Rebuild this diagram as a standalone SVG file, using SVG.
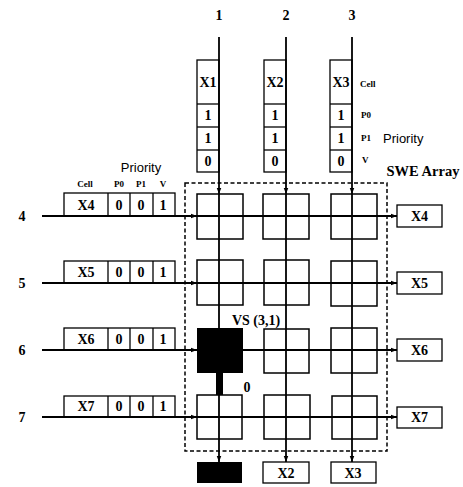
<svg xmlns="http://www.w3.org/2000/svg" width="463" height="487" viewBox="0 0 463 487">
<style>
.b{fill:none;stroke:#000;stroke-width:1.3}
.c{fill:none;stroke:#000;stroke-width:1.5}
.l{stroke:#000;stroke-width:1.8;fill:none}
.d{fill:none;stroke:#000;stroke-width:1.5;stroke-dasharray:4,2.5}
.t{font-family:"Liberation Serif",serif;font-weight:bold;font-size:14px;text-anchor:middle;fill:#000}
.s{font-family:"Liberation Serif",serif;font-weight:bold;font-size:9px;fill:#000}
.p{font-family:"Liberation Sans",sans-serif;font-size:13px;fill:#000}
</style>
<defs>
<marker id="a" viewBox="0 0 8 8" refX="8" refY="4" markerWidth="6" markerHeight="6" orient="auto" markerUnits="userSpaceOnUse"><path d="M0,1 L8,4 L0,7 Z" fill="#000"/></marker>
</defs>
<rect width="463" height="487" fill="#fff"/>

<g id="labels">
<text class="t" x="219" y="20">1</text>
<text class="t" x="286" y="20">2</text>
<text class="t" x="352" y="20">3</text>
<text class="t" x="22" y="221">4</text>
<text class="t" x="22" y="288">5</text>
<text class="t" x="22" y="355">6</text>
<text class="t" x="22" y="422">7</text>
<text class="s" x="360" y="87">Cell</text>
<text class="s" x="361" y="118">P0</text>
<text class="s" x="361" y="141">P1</text>
<text class="s" x="362" y="163">V</text>
<text class="p" x="383" y="143">Priority</text>
<text class="t" x="423" y="176" style="font-size:14.5px">SWE Array</text>
<text class="p" x="141" y="172" text-anchor="middle">Priority</text>
<text class="s" x="85" y="187" text-anchor="middle">Cell</text>
<text class="s" x="119" y="187" text-anchor="middle">P0</text>
<text class="s" x="141" y="187" text-anchor="middle">P1</text>
<text class="s" x="163" y="187" text-anchor="middle">V</text>
<text class="t" x="256" y="325">VS (3,1)</text>
<text class="t" x="247" y="392">0</text>
</g>

<rect id="swe-array" class="d" x="185" y="183" width="202" height="268"/>

<g id="connectors">
<line class="l" x1="219" y1="37" x2="219" y2="194" marker-end="url(#a)"/>
<line class="l" x1="286" y1="37" x2="286" y2="194" marker-end="url(#a)"/>
<line class="l" x1="352" y1="37" x2="352" y2="194" marker-end="url(#a)"/>
<line class="l" x1="219" y1="194" x2="219" y2="462" marker-end="url(#a)"/>
<line class="l" x1="286" y1="194" x2="286" y2="462" marker-end="url(#a)"/>
<line class="l" x1="352" y1="194" x2="352" y2="462" marker-end="url(#a)"/>
<line class="l" x1="42" y1="216" x2="197" y2="216" marker-end="url(#a)"/>
<line class="l" x1="42" y1="283" x2="197" y2="283" marker-end="url(#a)"/>
<line class="l" x1="42" y1="350" x2="197" y2="350" marker-end="url(#a)"/>
<line class="l" x1="42" y1="417" x2="197" y2="417" marker-end="url(#a)"/>
<line class="l" x1="197" y1="216" x2="397" y2="216" marker-end="url(#a)"/>
<line class="l" x1="197" y1="283" x2="397" y2="283" marker-end="url(#a)"/>
<line class="l" x1="197" y1="350" x2="397" y2="350" marker-end="url(#a)"/>
<line class="l" x1="197" y1="417" x2="397" y2="417" marker-end="url(#a)"/>
</g>

<g id="reg-col1">
<rect class="b" x="197" y="60" width="22" height="112"/>
<line class="b" x1="197" y1="104" x2="219" y2="104"/><line class="b" x1="197" y1="127" x2="219" y2="127"/><line class="b" x1="197" y1="150" x2="219" y2="150"/>
<text class="t" x="208" y="87">X1</text><text class="t" x="208" y="120">1</text><text class="t" x="208" y="143">1</text><text class="t" x="208" y="166">0</text>
</g>
<g id="reg-col2">
<rect class="b" x="264" y="60" width="22" height="112"/>
<line class="b" x1="264" y1="104" x2="286" y2="104"/><line class="b" x1="264" y1="127" x2="286" y2="127"/><line class="b" x1="264" y1="150" x2="286" y2="150"/>
<text class="t" x="275" y="87">X2</text><text class="t" x="275" y="120">1</text><text class="t" x="275" y="143">1</text><text class="t" x="275" y="166">0</text>
</g>
<g id="reg-col3">
<rect class="b" x="330" y="60" width="22" height="112"/>
<line class="b" x1="330" y1="104" x2="352" y2="104"/><line class="b" x1="330" y1="127" x2="352" y2="127"/><line class="b" x1="330" y1="150" x2="352" y2="150"/>
<text class="t" x="341" y="87">X3</text><text class="t" x="341" y="120">1</text><text class="t" x="341" y="143">1</text><text class="t" x="341" y="166">0</text>
</g>

<g id="reg-row4">
<rect class="b" x="64" y="193" width="111" height="23"/>
<line class="b" x1="108" y1="193" x2="108" y2="216"/><line class="b" x1="130" y1="193" x2="130" y2="216"/><line class="b" x1="153" y1="193" x2="153" y2="216"/>
<text class="t" x="86" y="210">X4</text><text class="t" x="119" y="210">0</text><text class="t" x="141" y="210">0</text><text class="t" x="163" y="210">1</text>
</g>
<g id="reg-row5">
<rect class="b" x="64" y="261" width="111" height="22"/>
<line class="b" x1="108" y1="261" x2="108" y2="283"/><line class="b" x1="130" y1="261" x2="130" y2="283"/><line class="b" x1="153" y1="261" x2="153" y2="283"/>
<text class="t" x="86" y="277">X5</text><text class="t" x="119" y="277">0</text><text class="t" x="141" y="277">0</text><text class="t" x="163" y="277">1</text>
</g>
<g id="reg-row6">
<rect class="b" x="64" y="328" width="111" height="22"/>
<line class="b" x1="108" y1="328" x2="108" y2="350"/><line class="b" x1="130" y1="328" x2="130" y2="350"/><line class="b" x1="153" y1="328" x2="153" y2="350"/>
<text class="t" x="86" y="344">X6</text><text class="t" x="119" y="344">0</text><text class="t" x="141" y="344">0</text><text class="t" x="163" y="344">1</text>
</g>
<g id="reg-row7">
<rect class="b" x="64" y="396" width="111" height="21"/>
<line class="b" x1="108" y1="396" x2="108" y2="417"/><line class="b" x1="130" y1="396" x2="130" y2="417"/><line class="b" x1="153" y1="396" x2="153" y2="417"/>
<text class="t" x="86" y="411">X7</text><text class="t" x="119" y="411">0</text><text class="t" x="141" y="411">0</text><text class="t" x="163" y="411">1</text>
</g>

<g id="cell-4-1"><rect class="c" x="197" y="194" width="46" height="45"/></g>
<g id="cell-4-2"><rect class="c" x="263" y="194" width="46" height="45"/></g>
<g id="cell-4-3"><rect class="c" x="331" y="194" width="46" height="45"/></g>
<g id="cell-5-1"><rect class="c" x="197" y="260" width="46" height="45"/></g>
<g id="cell-5-2"><rect class="c" x="264" y="260" width="45" height="45"/></g>
<g id="cell-5-3"><rect class="c" x="331" y="261" width="46" height="45"/></g>
<g id="cell-6-1"><rect x="197" y="328" width="46" height="45" fill="#000"/><rect x="216" y="372" width="7" height="23" fill="#000"/></g>
<g id="cell-6-2"><rect class="c" x="264" y="329" width="45" height="44"/></g>
<g id="cell-6-3"><rect class="c" x="331" y="328" width="46" height="45"/></g>
<g id="cell-7-1"><rect class="c" x="197" y="395" width="45" height="44"/></g>
<g id="cell-7-2"><rect class="c" x="264" y="395" width="46" height="44"/></g>
<g id="cell-7-3"><rect class="c" x="332" y="396" width="45" height="43"/></g>

<g id="out-x4"><rect class="b" x="397" y="205" width="45" height="22"/><text class="t" x="419.5" y="221">X4</text></g>
<g id="out-x5"><rect class="b" x="397" y="272" width="45" height="22"/><text class="t" x="419.5" y="288">X5</text></g>
<g id="out-x6"><rect class="b" x="397" y="339" width="45" height="22"/><text class="t" x="419.5" y="355">X6</text></g>
<g id="out-x7"><rect class="b" x="397" y="407" width="45" height="21"/><text class="t" x="419.5" y="422">X7</text></g>
<g id="out-col1"><rect x="197" y="462" width="45" height="21" fill="#000"/></g>
<g id="out-col2"><rect class="b" x="263" y="462" width="46" height="21"/><text class="t" x="286" y="478">X2</text></g>
<g id="out-col3"><rect class="b" x="331" y="462" width="45" height="21"/><text class="t" x="353" y="478">X3</text></g>
</svg>
